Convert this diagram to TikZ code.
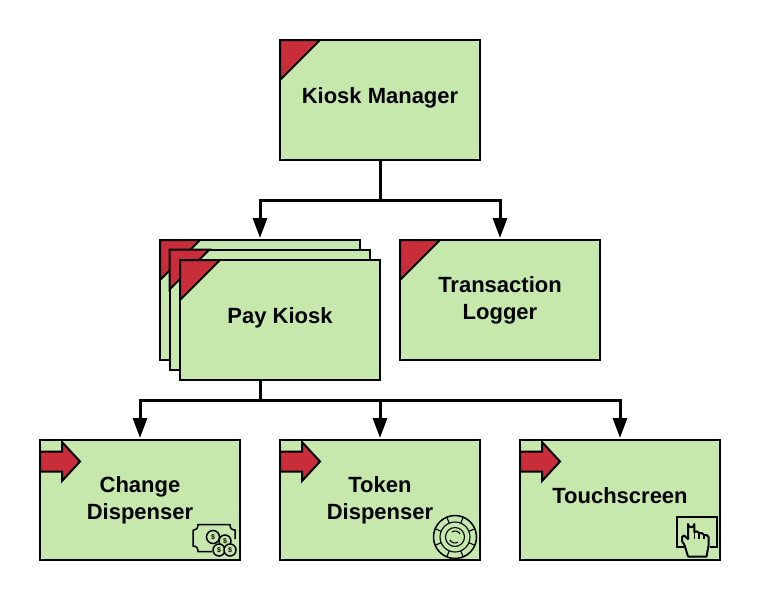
\documentclass[tikz,border=0pt]{standalone}
\usepackage{fontspec}
\setmainfont{Liberation Sans}
\usetikzlibrary{arrows.meta}
\definecolor{boxgreen}{HTML}{C7E8AC}
\definecolor{boxred}{HTML}{C92D39}
\tikzset{
  box/.style={draw=black,fill=boxgreen,line width=2pt,minimum width=200pt,minimum height=120pt,inner sep=0pt,outer sep=0pt},
  lbl/.style={font=\fontsize{22}{27}\selectfont\bfseries,align=center,inner sep=0pt,text=black},
  flag/.style={draw=black,fill=boxred,line width=2pt,line join=miter},
  conn/.style={draw=black,line width=3pt,-{Triangle[length=20pt,width=14pt]},shorten >=2pt},
  stub/.style={draw=black,line width=3pt},
  icon/.style={draw=black,line width=1.5pt,fill=none},
  thinicon/.style={draw=black,line width=1.1pt,fill=none},
  coinstyle/.style={draw=black,line width=1.5pt,fill=boxgreen},
  coinlbl/.style={font=\fontsize{7}{7}\selectfont\bfseries,inner sep=0pt}
}
\newcommand{\tri}[2]{\path[flag] (#1,#2) -- ++(40,0) -- ++(-40,40) -- cycle;}
\newcommand{\arr}[2]{\path[flag] (#1,#2+11.5) -- ++(22,0) -- ++(0,-9.5) -- ++(18,19.5) -- ++(-18,19.5) -- ++(0,-9.5) -- ++(-22,0) -- cycle;}
\begin{document}
\begin{tikzpicture}[x=1pt,y=-1pt]
\useasboundingbox (0,0) rectangle (760,600);
% boxes
\node[box] (km) at (380,100) {};
\tri{280}{40}
\node[lbl] (kmt) at (380,98) {Kiosk Manager};
\node[box] (pk1) at (260,300) {};
\tri{160}{240}
\node[box] (pk2) at (269.5,309.5) {};
\tri{169.5}{249.5}
\node[box] (pk3) at (280,320) {};
\tri{180}{260}
\node[lbl] (pkt) at (280,318) {Pay Kiosk};
\node[box] (tl) at (500,300) {};
\tri{400}{240}
\node[lbl] (tlt) at (500,300) {Transaction\\Logger};
\node[box] (cd) at (140,500) {};
\arr{40}{440}
\node[lbl] (cdt) at (140,500) {Change\\Dispenser};
\node[box] (td) at (380,500) {};
\arr{280}{440}
\node[lbl] (tdt) at (380,500) {Token\\Dispenser};
\node[box] (ts) at (620,500) {};
\arr{520}{440}
\node[lbl] (tst) at (620,496) {Touchscreen};
% connectors
\coordinate (split1) at (380,200);
\coordinate (split2) at (260,400);
\coordinate (pkb) at (260,380);
\draw[stub] (km.south) -- (split1);
\draw[conn] (split1) -| (pk1.north);
\draw[conn] (split1) -| (tl.north);
\draw[stub] (pkb) -- (split2);
\draw[conn] (split2) -| (cd.north);
\draw[conn] (split2) -- (split2 -| td.north) -- (td.north);
\draw[conn] (split2) -| (ts.north);
% money icon
\draw[icon] (193,530) .. controls (196.5,530) and (198,528) .. (198,524.5)
  -- (230,524.5) .. controls (230,528) and (231.5,530) .. (235,530) -- (235,539);
\draw[icon] (193,530) -- (193,546) .. controls (196.5,546) and (198,548) .. (198,551.5) -- (212,551.5);
\draw[icon] (213,537) circle[radius=6.5];
\node[coinlbl] (m0) at (213,537) {\$};
\draw[coinstyle] (225,541) circle[radius=6];
\node[coinlbl] (m1) at (225,541) {\$};
\draw[coinstyle] (219,550) circle[radius=6];
\node[coinlbl] (m2) at (219,550) {\$};
\draw[coinstyle] (230,550) circle[radius=6];
\node[coinlbl] (m3) at (230,550) {\$};
% token icon
\draw[icon] (455,537) circle[radius=21.5];
\draw[thinicon] (455,537) circle[radius=15];
\draw[thinicon] (455,537) circle[radius=9.5];
\draw[thinicon] (455,537) ++(60:6) arc[start angle=60,end angle=150,radius=6];
\draw[thinicon] (455,537) ++(240:6) arc[start angle=240,end angle=330,radius=6];
\foreach \a in {22.5,67.5,112.5,157.5,202.5,247.5,292.5,337.5}{
  \draw[thinicon] (455,537) ++(\a:15) -- ++(\a:6.5);
}
% touch icon
\draw[line width=2pt] (684,547) -- (677,547) -- (677,517) -- (717,517) -- (717,547) -- (710,547);
\draw[draw=black,line width=2pt,line join=round,fill=boxgreen]
  (688,556.5) -- (684.5,545) -- (682,541) -- (682,537) -- (684,535.5) -- (688,539)
  -- (688,524) arc[start angle=180,end angle=0,radius=3.2] -- (694.4,532)
  .. controls (696,531) and (698,531) .. (699,533)
  .. controls (701,532.5) and (703,533) .. (704,535)
  .. controls (706,534.5) and (708,535) .. (708.5,537)
  -- (708.5,546) -- (706.5,556.5) -- cycle;
\draw[line width=1.5pt] (694.4,532) -- (694.4,539) (699,533) -- (699,539) (704,535) -- (704,539);
\end{tikzpicture}
\end{document}
